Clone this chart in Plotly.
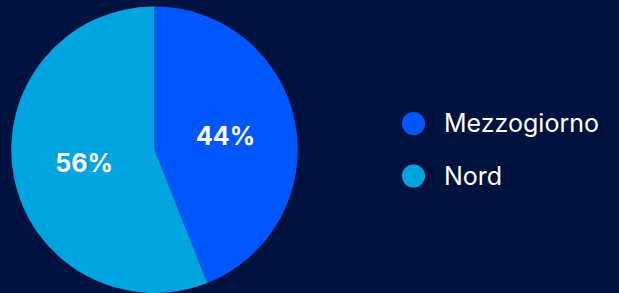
import plotly.graph_objects as go

labels = ["Mezzogiorno", "Nord"]
values = [44, 56]
colors = ["#0057FF", "#00A5DF"]
BG = "#00123F"

W, H = 619, 293

fig = go.Figure()
fig.add_trace(go.Pie(
    labels=labels, values=values, sort=False, direction="clockwise", rotation=0,
    marker=dict(colors=colors, line=dict(width=0)),
    textinfo="percent", texttemplate="%{percent:.0%}", textposition="inside",
    insidetextorientation="horizontal",
    textfont=dict(family="Inter", size=25, color="white", weight="bold"),
    domain=dict(x=[11 / W, 298 / W], y=[0, 0.978]),
    showlegend=False, hoverinfo="label+percent",
))

shapes = []
annotations = []
leg_y = [123.5, 176]
r = 11.5
cx = 413.5
for lab, col, py in zip(labels, colors, leg_y):
    shapes.append(dict(type="circle", xref="paper", yref="paper",
                       x0=(cx - r) / W, x1=(cx + r) / W,
                       y0=1 - (py + r) / H, y1=1 - (py - r) / H,
                       fillcolor=col, line=dict(width=0)))
    annotations.append(dict(text=lab, xref="paper", yref="paper",
                            x=442 / W, y=1 - py / H, xanchor="left", yanchor="middle",
                            showarrow=False,
                            font=dict(family="Inter", size=25, color="white")))

fig.update_layout(
    width=W, height=H, margin=dict(l=0, r=0, t=0, b=0),
    paper_bgcolor=BG, plot_bgcolor=BG,
    shapes=shapes, annotations=annotations,
)
fig.write_html("out.html", config={"displayModeBar": False},
               post_script="document.body.style.margin='0';document.body.style.background='" + BG + "';")
